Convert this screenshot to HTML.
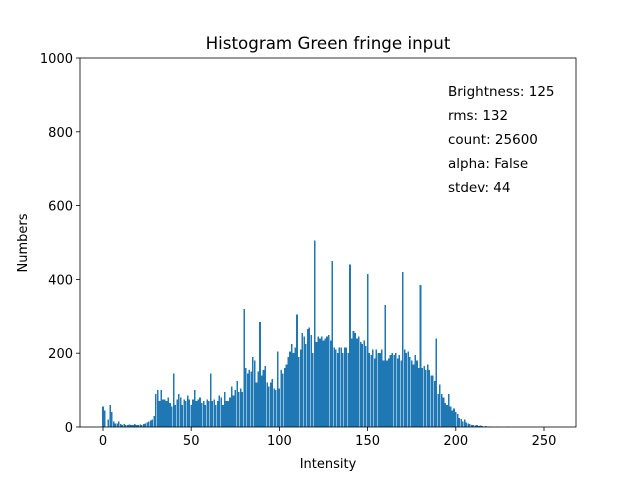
<!DOCTYPE html>
<html><head><meta charset="utf-8"><style>
body{margin:0;background:#fff;font-family:"Liberation Sans","DejaVu Sans",sans-serif}
svg text{font-family:"DejaVu Sans","Liberation Sans",sans-serif;fill:#000}
</style></head><body>
<svg id="chart" width="640" height="480">
<rect width="640" height="480" fill="#fff"/>
<text x="328" y="49" font-size="16.7" text-anchor="middle">Histogram Green fringe input</text>
<g id="bars" shape-rendering="crispEdges"></g>
<g id="axes"></g>
<g font-size="13.5">
<text x="448" y="96">Brightness: 125</text>
<text x="448" y="120">rms: 132</text>
<text x="448" y="144">count: 25600</text>
<text x="448" y="168">alpha: False</text>
<text x="448" y="192">stdev: 44</text>
</g>
<text x="328" y="468" font-size="13" text-anchor="middle">Intensity</text>
<text x="27" y="243" font-size="13" text-anchor="middle" transform="rotate(-90 27 243)">Numbers</text>
</svg>
<script>
const counts = [55,45,0,20,60,40,15,10,10,15,8,5,8,6,5,7,6,5,8,6,5,7,6,8,10,12,15,18,20,30,
90,100,70,100,75,75,70,80,65,55,145,60,75,90,80,60,75,70,85,75,
60,75,100,70,75,80,65,70,60,75,70,145,70,75,60,70,85,80,60,95,
70,70,80,110,85,100,125,95,105,95,320,160,145,155,150,190,180,120,150,285,
140,155,165,120,110,120,130,105,100,205,105,155,145,160,170,190,205,225,200,215,
305,190,210,255,245,225,265,270,250,200,505,230,245,240,245,235,240,245,250,235,
450,215,210,200,215,215,200,215,215,200,440,240,260,255,240,245,230,225,235,220,
415,200,195,210,185,210,200,200,210,180,330,180,185,195,200,195,200,185,195,180,
420,210,200,205,190,180,170,195,180,160,385,160,165,155,170,155,140,140,125,240,
90,115,90,80,65,60,90,55,45,50,40,35,25,22,15,20,12,10,8,6,
5,4,5,3,4,3,2,3,2,1,2,0,0,0,2,0,0,0,0,0,1,0,0,0,0,0,0,0,0,0,
0,0,0,0,0,0,0,0,0,0,0,0,0,0,0,0];
const xTicks = [0,50,100,150,200,250];
const yTicks = [0,200,400,600,800,1000];
const NS="http://www.w3.org/2000/svg";
const L=80,R=576,T=58,B=427;
const xs=v=>103+v*1.764;
const ys=v=>B-(v/1000)*(B-T);
const bars=document.getElementById('bars');
counts.forEach((c,i)=>{
  if(c<=0) return;
  const r=document.createElementNS(NS,'rect');
  r.setAttribute('x',xs(i-0.45));
  r.setAttribute('width',1.6);
  r.setAttribute('y',ys(c));
  r.setAttribute('height',B-ys(c));
  r.setAttribute('fill','#1f77b4');
  
  
  bars.appendChild(r);
});
const ax=document.getElementById('axes');
const fr=document.createElementNS(NS,'rect');
fr.setAttribute('x',L);fr.setAttribute('y',T);fr.setAttribute('width',R-L);fr.setAttribute('height',B-T);
fr.setAttribute('fill','none');fr.setAttribute('stroke','#000');fr.setAttribute('stroke-width','0.8');


ax.appendChild(fr);
xTicks.forEach(t=>{
  const l=document.createElementNS(NS,'line');
  l.setAttribute('x1',xs(t));l.setAttribute('x2',xs(t));l.setAttribute('y1',B);l.setAttribute('y2',B+4);
  l.setAttribute('stroke','#000');l.setAttribute('stroke-width','0.8');
  
  
  ax.appendChild(l);
  const tx=document.createElementNS(NS,'text');
  tx.setAttribute('x',xs(t));tx.setAttribute('y',B+18);tx.setAttribute('font-size','13');tx.setAttribute('text-anchor','middle');
  tx.textContent=t;
  
  
  ax.appendChild(tx);
});
yTicks.forEach(t=>{
  const l=document.createElementNS(NS,'line');
  l.setAttribute('x1',L-4);l.setAttribute('x2',L);l.setAttribute('y1',ys(t));l.setAttribute('y2',ys(t));
  l.setAttribute('stroke','#000');l.setAttribute('stroke-width','0.8');
  
  
  ax.appendChild(l);
  const tx=document.createElementNS(NS,'text');
  tx.setAttribute('x',L-7);tx.setAttribute('y',ys(t)+5);tx.setAttribute('font-size','13');tx.setAttribute('text-anchor','end');
  tx.textContent=t;
  
  
  ax.appendChild(tx);
});
</script>
</body></html>
